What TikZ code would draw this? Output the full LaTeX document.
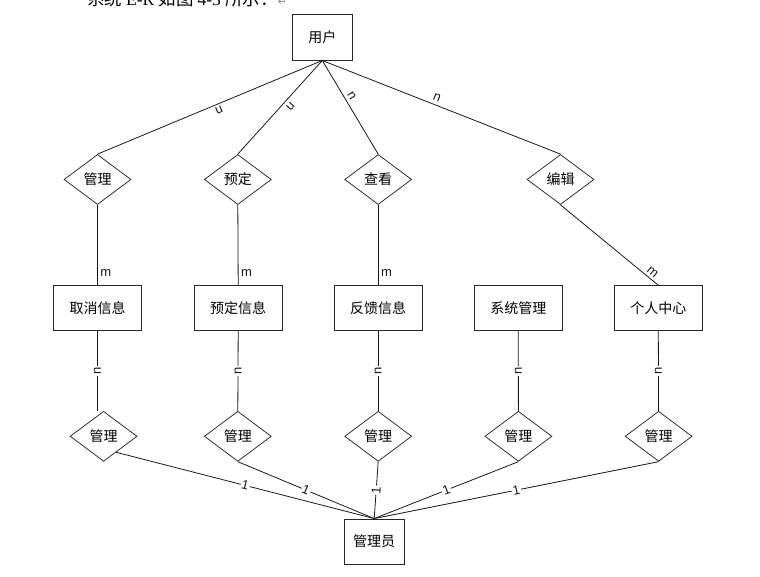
\documentclass[tikz,border=0pt]{standalone}
\usepackage{fontspec}
\setmainfont{Liberation Sans}
\newfontfamily\cjk{Noto Sans CJK SC}
\newfontfamily\serifx{Liberation Serif}
\newfontfamily\symbx{DejaVu Sans}
\usetikzlibrary{shapes.geometric,calc}
\begin{document}
\begin{tikzpicture}[x=1pt,y=-1pt,
  ent/.style={draw=black!85, line width=0.9pt, minimum width=88pt, minimum height=45pt, inner sep=0pt, font=\cjk\fontsize{14}{16}\selectfont},
  rel/.style={draw=black!85, line width=0.75pt, diamond, minimum width=67pt, minimum height=50pt, inner sep=0pt, font=\cjk\fontsize{14}{16}\selectfont},
  conn/.style={line width=0.8pt, black!90},
  lab/.style={font=\fontsize{13}{13}\selectfont, inner sep=1.5pt},
  onlab/.style={lab, fill=white, inner sep=1pt}
]
\useasboundingbox (0,0) rectangle (760,577);
\clip (0,0) rectangle (760,577);
% cut-off caption line (cut off at the top edge in the reference too)
\node[anchor=base west, inner sep=0pt, font=\fontsize{17.5}{19}\selectfont] (title) at (87,6)
  {\cjk 系统 \serifx E-R \cjk 如图 \serifx 4-3 \cjk 所示：\textcolor{black!45}{\symbx\fontsize{11}{11}\selectfont ↵}};
% entities
\node[ent, minimum width=60pt, minimum height=45.7pt] (user) at (322.3,37.2) {用户};
\node[ent] (e1) at (97.5,308.2) {取消信息};
\node[ent] (e2) at (238.2,308.2) {预定信息};
\node[ent] (e3) at (378.2,308.2) {反馈信息};
\node[ent] (e4) at (518.3,308.2) {系统管理};
\node[ent] (e5) at (658.3,308.2) {个人中心};
\node[ent, minimum width=59.7pt] (admin) at (374.2,541.5) {管理员};
% relationships (upper)
\node[rel] (r1) at (97.5,179.5) {管理};
\node[rel] (r2) at (237.8,179.5) {预定};
\node[rel] (r3) at (378.2,179.5) {查看};
\node[rel] (r4) at (560.5,179.5) {编辑};
% relationships (lower)
\node[rel] (m1) at (103.6,436.3) {管理};
\node[rel] (m2) at (237.8,436.3) {管理};
\node[rel] (m3) at (378.2,436.3) {管理};
\node[rel] (m4) at (518.4,436.3) {管理};
\node[rel] (m5) at (658.6,436.3) {管理};
% user connectors
\draw[conn] (user.south) -- node[lab, pos=0.47, sloped, allow upside down, above=1pt] {n} (r1.north);
\draw[conn] (user.south) -- node[lab, pos=0.44, sloped, allow upside down, above=2pt] {n} (r2.north);
\draw[conn] (user.south) -- node[lab, pos=0.42, sloped, allow upside down, above=1.5pt] {n} (r3.north);
\draw[conn] (user.south) -- node[lab, pos=0.47, sloped, allow upside down, above=2pt] {n} (r4.north);
% relationship to info entities
\draw[conn] (r1.south) -- node[lab, pos=0.845, right=1pt] {m} (e1.north);
\draw[conn] (r2.south) -- node[lab, pos=0.845, right=1pt] {m} (e2.north);
\draw[conn] (r3.south) -- node[lab, pos=0.845, right=1pt] {m} (e3.north);
\draw[conn] (r4.south) -- node[lab, pos=0.9, sloped, above=1pt] {m} (e5.north);
% info entities to lower relationships
\draw[conn] (e1.south) -- node[onlab, rotate=90] {n} (e1.south |- m1.north);
\draw[conn] (e2.south) -- node[onlab, rotate=90] {n} (m2.north);
\draw[conn] (e3.south) -- node[onlab, rotate=90] {n} (m3.north);
\draw[conn] (e4.south) -- node[onlab, rotate=90] {n} (m4.north);
\draw[conn] (e5.south) -- node[onlab, rotate=90] {n} (m5.north);
% lower relationships to admin
\draw[conn] ($(m1.south)!0.37!(m1.east)$) -- node[onlab, sloped] {1} (admin.north);
\draw[conn] (m2.south) -- node[onlab, sloped] {1} (admin.north);
\draw[conn] (m3.south) -- node[onlab, sloped] {1} (admin.north);
\draw[conn] (m4.south) -- node[onlab, sloped] {1} (admin.north);
\draw[conn] (m5.south) -- node[onlab, sloped] {1} (admin.north);
\end{tikzpicture}
\end{document}
